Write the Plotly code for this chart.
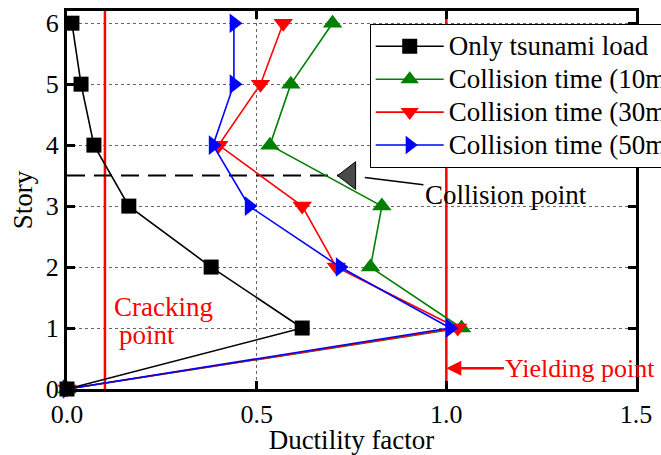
import plotly.graph_objects as go

# Story levels and ductility factors per loading case
stories = [0, 1, 2, 3, 4, 5, 6]
tsunami_only = [0.0, 0.62, 0.38, 0.163, 0.071, 0.037, 0.013]
collision_10min = [0.0, 1.04, 0.80, 0.83, 0.535, 0.59, 0.70]
collision_30min = [0.0, 1.03, 0.71, 0.62, 0.40, 0.51, 0.57]
collision_50min = [0.0, 1.01, 0.72, 0.48, 0.385, 0.44, 0.44]

cracking_limit = 0.1
yielding_limit = 1.0
collision_story = 3.5
collision_x = 0.745

x_ticks = [0.0, 0.5, 1.0, 1.5]
y_ticks = [0, 1, 2, 3, 4, 5, 6]

FONT = "Liberation Serif"
TXT = 27

fig = go.Figure()

# limit lines
for xv in (cracking_limit, yielding_limit):
    fig.add_trace(go.Scatter(x=[xv, xv], y=[0, 6.2], mode="lines",
                             line=dict(color="red", width=2.5),
                             showlegend=False, hoverinfo="skip"))

# collision level
fig.add_trace(go.Scatter(x=[0, collision_x - 0.02], y=[collision_story, collision_story],
                         mode="lines", line=dict(color="black", width=2, dash="18px,9px"),
                         showlegend=False, hoverinfo="skip"))
fig.add_trace(go.Scatter(x=[collision_x], y=[collision_story], mode="markers",
                         marker=dict(symbol="triangle-left", size=24, color="#4a4a4a",
                                     line=dict(color="black", width=1)),
                         showlegend=False, hoverinfo="skip", cliponaxis=False))

series = [
    ("Collision time (10min)", collision_10min, "green", "triangle-up", 2),
    ("Collision time (30min)", collision_30min, "red", "triangle-down", 3),
    ("Collision time (50min)", collision_50min, "blue", "triangle-right", 4),
    ("Only tsunami load", tsunami_only, "black", "square", 1),
]
for name, vals, color, sym, rank in series:
    fig.add_trace(go.Scatter(
        x=vals, y=stories, mode="lines+markers", legendrank=rank,
        name=f'<span style="font-size:{TXT}px">{name}</span>',
        line=dict(color=color, width=1.6),
        marker=dict(symbol=sym, size=15 if sym == "square" else 17, color=color,
                    line=dict(width=0)),
        cliponaxis=False))

fig.add_annotation(x=collision_x + 0.04, y=collision_story - 0.03, xref="x", yref="y",
                   text="Collision point", showarrow=True, arrowhead=0, arrowwidth=1.6,
                   arrowcolor="black", ax=1.157, ay=3.18, axref="x", ayref="y",
                   font=dict(family=FONT, size=TXT, color="black"))
fig.add_annotation(x=yielding_limit, y=0.34, xref="x", yref="y",
                   text="Yielding point", showarrow=True, arrowhead=2, arrowsize=1.2,
                   arrowwidth=2.5, arrowcolor="red", ax=134, ay=0,
                   font=dict(family=FONT, size=26, color="red"))
fig.add_annotation(x=0.118, y=1.34, xref="x", yref="y", xanchor="left",
                   text="Cracking", showarrow=False,
                   font=dict(family=FONT, size=TXT, color="red"))
fig.add_annotation(x=0.131, y=0.885, xref="x", yref="y", xanchor="left",
                   text="point", showarrow=False,
                   font=dict(family=FONT, size=TXT, color="red"))

axis_common = dict(showline=True, linecolor="black", linewidth=3, mirror="ticks",
                   ticks="inside", ticklen=8, tickwidth=3, tickcolor="black",
                   showgrid=True, gridcolor="#666666", gridwidth=1, griddash="dot",
                   zeroline=False, automargin=False,
                   tickfont=dict(family=FONT, size=26, color="black"),
                   title_font=dict(family=FONT, size=TXT, color="black"))

fig.update_xaxes(range=[0, 1.5], tickvals=x_ticks, tickformat=".1f",
                 title_text="Ductility factor", title_standoff=2, **axis_common)
fig.update_yaxes(range=[0, 6.2], tickvals=y_ticks,
                 title_text="Story", title_standoff=6, **axis_common)

fig.update_layout(
    width=661, height=455,
    margin=dict(l=67, r=25, t=11, b=66, autoexpand=False),
    paper_bgcolor="white", plot_bgcolor="white",
    font=dict(family=FONT, size=TXT, color="black"),
    legend=dict(x=0.532, y=0.966, xanchor="left", yanchor="top",
                bgcolor="white", bordercolor="black", borderwidth=1,
                font=dict(family=FONT, size=23), tracegroupgap=0, itemwidth=68,
                entrywidth=200, entrywidthmode="pixels"),
)

fig.write_html("out.html")
